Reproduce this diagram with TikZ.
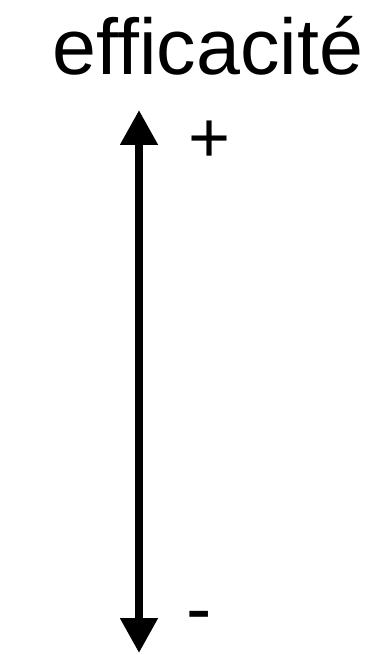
\documentclass[tikz,border=0pt]{standalone}
\usepackage{fontspec}
\setmainfont{Liberation Sans}
\usetikzlibrary{arrows.meta}
\tikzset{
  lbl/.style={inner sep=0pt, outer sep=0pt, anchor=base, text depth=0pt},
  axis/.style={line width=8pt, {Triangle[length=35pt,width=36pt]}-{Triangle[length=35pt,width=36pt]}}
}
\begin{document}
\begin{tikzpicture}[x=1pt,y=-1pt]
\useasboundingbox (0,0) rectangle (385,655);
\node[lbl] (title) at (208,75) {\fontsize{79}{82}\selectfont efficacité};
\coordinate (top) at (139,110);
\coordinate (bot) at (139,653);
\draw[axis] (bot) -- (top);
\node[lbl] (plus) at (210,163) {\fontsize{72}{76}\selectfont +};
\node[lbl] (minus) at (199,634) {\fontsize{76}{80}\selectfont -};
\end{tikzpicture}
\end{document}
